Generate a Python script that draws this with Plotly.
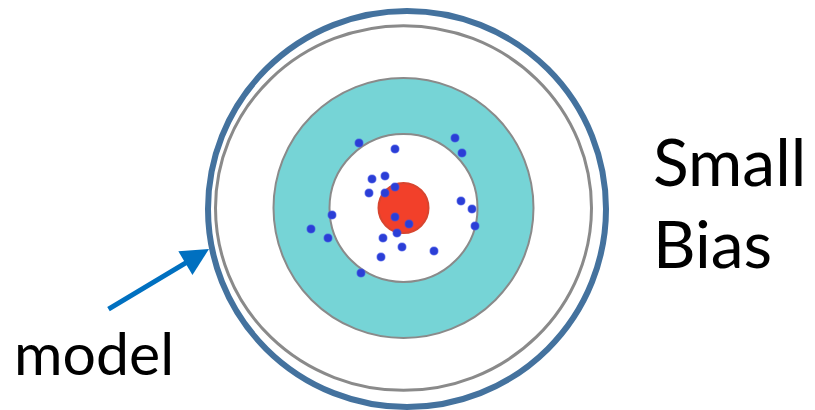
import plotly.graph_objects as go

# target geometry (pixel-like coords, y grows downward)
center_x, center_y = 403.5, 209
ring_radii = [188, 130, 74, 25]          # gray ring, teal disc, white disc, red bullseye
ring_fills = ["rgba(0,0,0,0)", "#76d4d6", "white", "#f2402a"]

# shots on the target
dot_x = [359, 395, 455, 462, 372, 385, 369, 385, 395, 461, 472, 475, 332, 311, 328,
         395, 409, 397, 383, 402, 434, 381, 361]
dot_y = [143, 149, 138, 153, 179, 176, 193, 193, 187, 201, 209, 226, 215, 229, 238,
         217, 224, 233, 238, 247, 251, 257, 273]

fig = go.Figure()

# outer frame circle
fig.add_shape(type="circle", xref="x", yref="y",
              x0=407 - 199, x1=407 + 199, y0=center_y - 198, y1=center_y + 198,
              line=dict(color="#44729e", width=6), fillcolor="white", layer="below")

for r, fill in zip(ring_radii, ring_fills):
    ry = r * 0.97 if r == ring_radii[0] else r
    fig.add_shape(type="circle", xref="x", yref="y",
                  x0=center_x - r, x1=center_x + r, y0=center_y - ry - 1, y1=center_y + ry - 1,
                  line=dict(color="#8a8a8a" if fill != "#f2402a" else "#d8452f",
                            width=3 if r == ring_radii[0] else 2),
                  fillcolor=fill, layer="below")

fig.add_trace(go.Scatter(x=dot_x, y=dot_y, mode="markers",
                         marker=dict(size=8, color="#2b3ed6",
                                     line=dict(color="rgba(60,80,230,0.45)", width=1.5)),
                         hoverinfo="skip", showlegend=False))

# arrow pointing at the frame
fig.add_annotation(x=209, y=249, ax=107, ay=310, xref="x", yref="y", axref="x", ayref="y",
                   text="", showarrow=True, arrowhead=2, arrowsize=1.1, arrowwidth=5,
                   arrowcolor="#0070c0")

fig.add_annotation(x=12, y=352, xref="x", yref="y", text="model", showarrow=False,
                   xanchor="left", yanchor="middle",
                   font=dict(family="Lato", size=59, color="black"))
fig.add_annotation(x=651, y=160, xref="x", yref="y", text="Small", showarrow=False,
                   xanchor="left", yanchor="middle",
                   font=dict(family="Lato", size=66, color="black"))
fig.add_annotation(x=651, y=242, xref="x", yref="y", text="Bias", showarrow=False,
                   xanchor="left", yanchor="middle",
                   font=dict(family="Lato", size=66, color="black"))

fig.update_xaxes(range=[0, 815], visible=False, showgrid=False, zeroline=False)
fig.update_yaxes(range=[410, 0], visible=False, showgrid=False, zeroline=False)
fig.update_layout(width=815, height=410, margin=dict(l=0, r=0, t=0, b=0),
                  plot_bgcolor="white", paper_bgcolor="white")

fig.write_html("out.html", config={"displayModeBar": False},
               post_script="document.body.style.margin='0';")
